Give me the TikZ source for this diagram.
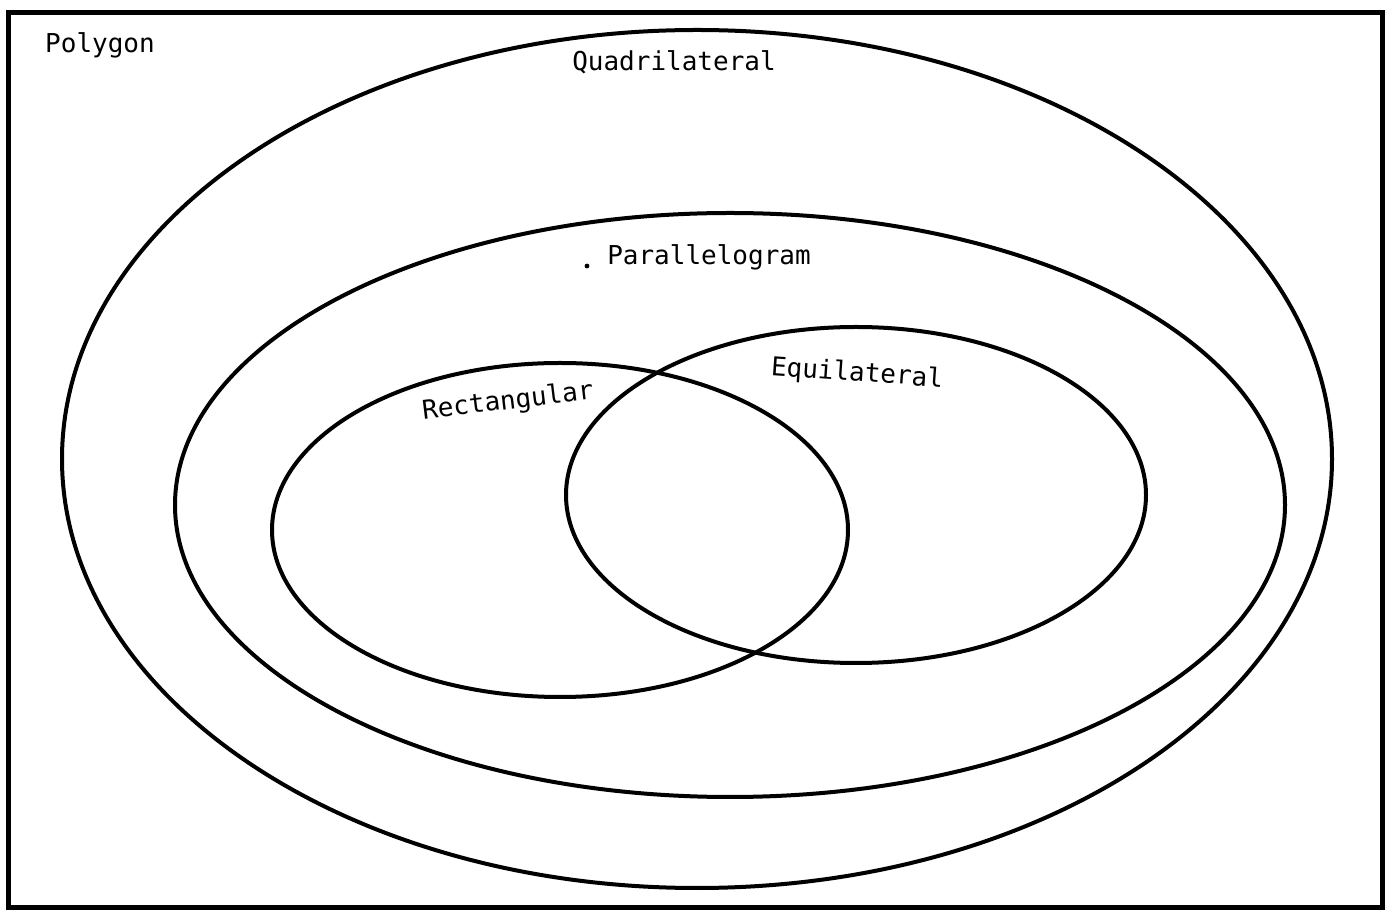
\documentclass[tikz,border=0pt]{standalone}
\usepackage{fontspec}
\setmonofont{DejaVu Sans Mono}
\usetikzlibrary{shapes.geometric,positioning}

\begin{document}
\begin{tikzpicture}[
        x=0.5pt, y=-0.5pt,
        set/.style={draw, ellipse, line width=2pt, inner sep=0pt},
        label/.style={font=\ttfamily\fontsize{13}{15}\selectfont, inner sep=0pt}
    ]
        \useasboundingbox (0,0) rectangle (1387,913);
        % outer frame
        \draw[line width=2.5pt] (8,13) rectangle (1382,907);
        \node[label] (polygon) at (100,45) {Polygon};

        \node[set, minimum width=635pt, minimum height=429pt] (quad) at (697,459) {};
        \node[set, minimum width=555pt, minimum height=292pt] (para) at (730,505) {};
        \node[set, minimum width=288pt, minimum height=167pt] (rect) at (560,530) {};
        \node[set, minimum width=290pt, minimum height=168pt] (equi) at (856,495) {};

        \node[label] (quadlabel) at (674,62) {Quadrilateral};
        \node[label] (paralabel) at (709,257) {Parallelogram};
        \fill (587,266) circle (1.2pt);
        \node[label, rotate=7] (rectlabel) at (508,402) {Rectangular};
        \node[label, rotate=-4] (equilabel) at (857,374) {Equilateral};
    \end{tikzpicture}
\end{document}
